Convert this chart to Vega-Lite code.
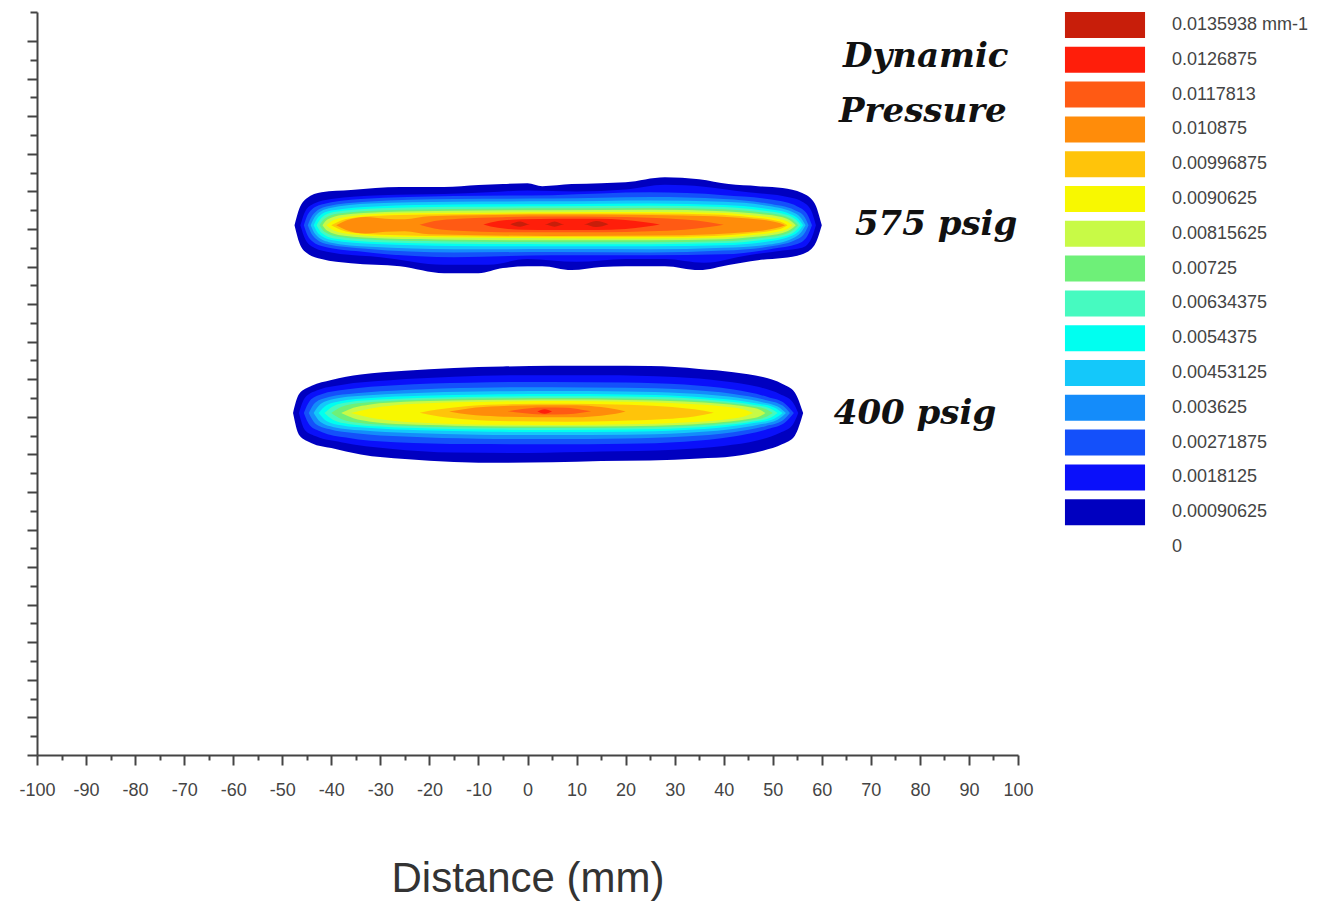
{
"$schema": "https://vega.github.io/schema/vega-lite/v6.json",
"width": 981, "height": 743,
"autosize": {"type": "none"},
"padding": {"left": 37, "top": 12, "right": 307, "bottom": 146},
"background": "white",
"config": {"view": {"stroke": null}},
"datasets": {
"blobs": [
{"b":"575","v":0.00090625,"x":-47.5,"top":28.2,"bot":28.2},
{"b":"575","v":0.00090625,"x":-46.5,"top":29.1,"bot":27.25},
{"b":"575","v":0.00090625,"x":-45,"top":29.64,"bot":26.72},
{"b":"575","v":0.00090625,"x":-42,"top":29.96,"bot":26.4},
{"b":"575","v":0.00090625,"x":-36,"top":30.07,"bot":26.18},
{"b":"575","v":0.00090625,"x":-26,"top":30.23,"bot":26.02},
{"b":"575","v":0.00090625,"x":-17,"top":30.23,"bot":25.65},
{"b":"575","v":0.00090625,"x":-10,"top":30.34,"bot":25.65},
{"b":"575","v":0.00090625,"x":-5,"top":30.39,"bot":25.92},
{"b":"575","v":0.00090625,"x":0,"top":30.44,"bot":26.02},
{"b":"575","v":0.00090625,"x":3,"top":30.28,"bot":26.02},
{"b":"575","v":0.00090625,"x":9,"top":30.39,"bot":25.81},
{"b":"575","v":0.00090625,"x":15,"top":30.44,"bot":25.97},
{"b":"575","v":0.00090625,"x":20,"top":30.49,"bot":26.02},
{"b":"575","v":0.00090625,"x":28,"top":30.76,"bot":26.02},
{"b":"575","v":0.00090625,"x":35,"top":30.65,"bot":25.81},
{"b":"575","v":0.00090625,"x":41,"top":30.39,"bot":26.08},
{"b":"575","v":0.00090625,"x":47,"top":30.28,"bot":26.34},
{"b":"575","v":0.00090625,"x":52,"top":30.18,"bot":26.45},
{"b":"575","v":0.00090625,"x":56,"top":29.91,"bot":26.66},
{"b":"575","v":0.00090625,"x":58.5,"top":29.38,"bot":27.14},
{"b":"575","v":0.00090625,"x":60,"top":28.2,"bot":28.2},
{"b":"575","v":0.0018125,"x":-46.3,"top":28.2,"bot":28.2},
{"b":"575","v":0.0018125,"x":-45.3,"top":28.95,"bot":27.45},
{"b":"575","v":0.0018125,"x":-43.5,"top":29.35,"bot":27.0},
{"b":"575","v":0.0018125,"x":-40,"top":29.6,"bot":26.75},
{"b":"575","v":0.0018125,"x":-30,"top":29.8,"bot":26.5},
{"b":"575","v":0.0018125,"x":-17,"top":29.86,"bot":26.1},
{"b":"575","v":0.0018125,"x":-8,"top":29.95,"bot":26.1},
{"b":"575","v":0.0018125,"x":0,"top":30.05,"bot":26.4},
{"b":"575","v":0.0018125,"x":10,"top":30.0,"bot":26.25},
{"b":"575","v":0.0018125,"x":20,"top":30.1,"bot":26.4},
{"b":"575","v":0.0018125,"x":28,"top":30.35,"bot":26.4},
{"b":"575","v":0.0018125,"x":36,"top":30.25,"bot":26.2},
{"b":"575","v":0.0018125,"x":45,"top":29.95,"bot":26.6},
{"b":"575","v":0.0018125,"x":52,"top":29.75,"bot":26.85},
{"b":"575","v":0.0018125,"x":56,"top":29.45,"bot":27.0},
{"b":"575","v":0.0018125,"x":57.8,"top":29.0,"bot":27.45},
{"b":"575","v":0.0018125,"x":58.8,"top":28.2,"bot":28.2},
{"b":"575","v":0.00271875,"x":-45.6,"top":28.2,"bot":28.2},
{"b":"575","v":0.00271875,"x":-44.6,"top":28.85,"bot":27.55},
{"b":"575","v":0.00271875,"x":-42,"top":29.3,"bot":27.1},
{"b":"575","v":0.00271875,"x":-34,"top":29.6,"bot":26.8},
{"b":"575","v":0.00271875,"x":-15,"top":29.75,"bot":26.5},
{"b":"575","v":0.00271875,"x":5,"top":29.8,"bot":26.6},
{"b":"575","v":0.00271875,"x":25,"top":29.95,"bot":26.6},
{"b":"575","v":0.00271875,"x":40,"top":29.8,"bot":26.65},
{"b":"575","v":0.00271875,"x":50,"top":29.55,"bot":26.95},
{"b":"575","v":0.00271875,"x":55,"top":29.2,"bot":27.2},
{"b":"575","v":0.00271875,"x":57,"top":28.8,"bot":27.6},
{"b":"575","v":0.00271875,"x":58,"top":28.2,"bot":28.2},
{"b":"575","v":0.003625,"x":-44.8,"top":28.2,"bot":28.2},
{"b":"575","v":0.003625,"x":-43.8,"top":28.75,"bot":27.65},
{"b":"575","v":0.003625,"x":-41,"top":29.2,"bot":27.2},
{"b":"575","v":0.003625,"x":-33,"top":29.45,"bot":26.95},
{"b":"575","v":0.003625,"x":-15,"top":29.6,"bot":26.75},
{"b":"575","v":0.003625,"x":5,"top":29.62,"bot":26.78},
{"b":"575","v":0.003625,"x":25,"top":29.7,"bot":26.75},
{"b":"575","v":0.003625,"x":40,"top":29.6,"bot":26.85},
{"b":"575","v":0.003625,"x":49,"top":29.35,"bot":27.05},
{"b":"575","v":0.003625,"x":54.5,"top":29.0,"bot":27.4},
{"b":"575","v":0.003625,"x":56.3,"top":28.7,"bot":27.7},
{"b":"575","v":0.003625,"x":57.3,"top":28.2,"bot":28.2},
{"b":"575","v":0.00453125,"x":-44.2,"top":28.2,"bot":28.2},
{"b":"575","v":0.00453125,"x":-43.2,"top":28.7,"bot":27.7},
{"b":"575","v":0.00453125,"x":-40.5,"top":29.1,"bot":27.3},
{"b":"575","v":0.00453125,"x":-32,"top":29.35,"bot":27.05},
{"b":"575","v":0.00453125,"x":-15,"top":29.45,"bot":26.92},
{"b":"575","v":0.00453125,"x":5,"top":29.47,"bot":26.93},
{"b":"575","v":0.00453125,"x":25,"top":29.52,"bot":26.92},
{"b":"575","v":0.00453125,"x":40,"top":29.45,"bot":27.0},
{"b":"575","v":0.00453125,"x":48.5,"top":29.25,"bot":27.15},
{"b":"575","v":0.00453125,"x":54,"top":28.9,"bot":27.5},
{"b":"575","v":0.00453125,"x":55.7,"top":28.6,"bot":27.8},
{"b":"575","v":0.00453125,"x":56.7,"top":28.2,"bot":28.2},
{"b":"575","v":0.0054375,"x":-43.6,"top":28.2,"bot":28.2},
{"b":"575","v":0.0054375,"x":-42.6,"top":28.65,"bot":27.75},
{"b":"575","v":0.0054375,"x":-40,"top":28.98,"bot":27.42},
{"b":"575","v":0.0054375,"x":-31,"top":29.2,"bot":27.2},
{"b":"575","v":0.0054375,"x":-15,"top":29.3,"bot":27.1},
{"b":"575","v":0.0054375,"x":5,"top":29.32,"bot":27.08},
{"b":"575","v":0.0054375,"x":25,"top":29.36,"bot":27.08},
{"b":"575","v":0.0054375,"x":40,"top":29.28,"bot":27.14},
{"b":"575","v":0.0054375,"x":48,"top":29.1,"bot":27.3},
{"b":"575","v":0.0054375,"x":53.5,"top":28.8,"bot":27.6},
{"b":"575","v":0.0054375,"x":55.2,"top":28.55,"bot":27.85},
{"b":"575","v":0.0054375,"x":56.2,"top":28.2,"bot":28.2},
{"b":"575","v":0.00634375,"x":-43,"top":28.2,"bot":28.2},
{"b":"575","v":0.00634375,"x":-42,"top":28.6,"bot":27.8},
{"b":"575","v":0.00634375,"x":-39.5,"top":28.9,"bot":27.5},
{"b":"575","v":0.00634375,"x":-30,"top":29.1,"bot":27.3},
{"b":"575","v":0.00634375,"x":-15,"top":29.18,"bot":27.22},
{"b":"575","v":0.00634375,"x":5,"top":29.21,"bot":27.19},
{"b":"575","v":0.00634375,"x":25,"top":29.24,"bot":27.19},
{"b":"575","v":0.00634375,"x":40,"top":29.17,"bot":27.25},
{"b":"575","v":0.00634375,"x":47.5,"top":29.0,"bot":27.4},
{"b":"575","v":0.00634375,"x":53,"top":28.75,"bot":27.65},
{"b":"575","v":0.00634375,"x":54.7,"top":28.5,"bot":27.9},
{"b":"575","v":0.00634375,"x":55.7,"top":28.2,"bot":28.2},
{"b":"575","v":0.00725,"x":-42.4,"top":28.2,"bot":28.2},
{"b":"575","v":0.00725,"x":-41.4,"top":28.55,"bot":27.85},
{"b":"575","v":0.00725,"x":-38.5,"top":28.82,"bot":27.58},
{"b":"575","v":0.00725,"x":-29,"top":29.0,"bot":27.4},
{"b":"575","v":0.00725,"x":-15,"top":29.07,"bot":27.33},
{"b":"575","v":0.00725,"x":5,"top":29.1,"bot":27.3},
{"b":"575","v":0.00725,"x":25,"top":29.12,"bot":27.3},
{"b":"575","v":0.00725,"x":40,"top":29.05,"bot":27.35},
{"b":"575","v":0.00725,"x":47,"top":28.9,"bot":27.5},
{"b":"575","v":0.00725,"x":52.5,"top":28.68,"bot":27.72},
{"b":"575","v":0.00725,"x":54.2,"top":28.45,"bot":27.95},
{"b":"575","v":0.00725,"x":55.2,"top":28.2,"bot":28.2},
{"b":"575","v":0.00815625,"x":-41.8,"top":28.2,"bot":28.2},
{"b":"575","v":0.00815625,"x":-40.8,"top":28.5,"bot":27.9},
{"b":"575","v":0.00815625,"x":-37.8,"top":28.75,"bot":27.65},
{"b":"575","v":0.00815625,"x":-29,"top":28.9,"bot":27.5},
{"b":"575","v":0.00815625,"x":-15,"top":28.97,"bot":27.43},
{"b":"575","v":0.00815625,"x":5,"top":29.0,"bot":27.4},
{"b":"575","v":0.00815625,"x":25,"top":29.02,"bot":27.4},
{"b":"575","v":0.00815625,"x":40,"top":28.95,"bot":27.45},
{"b":"575","v":0.00815625,"x":46.5,"top":28.82,"bot":27.58},
{"b":"575","v":0.00815625,"x":52,"top":28.62,"bot":27.78},
{"b":"575","v":0.00815625,"x":53.7,"top":28.42,"bot":27.98},
{"b":"575","v":0.00815625,"x":54.7,"top":28.2,"bot":28.2},
{"b":"575","v":0.0090625,"x":-41,"top":28.2,"bot":28.2},
{"b":"575","v":0.0090625,"x":-39.5,"top":28.48,"bot":27.92},
{"b":"575","v":0.0090625,"x":-36,"top":28.68,"bot":27.72},
{"b":"575","v":0.0090625,"x":-28,"top":28.82,"bot":27.58},
{"b":"575","v":0.0090625,"x":-15,"top":28.86,"bot":27.54},
{"b":"575","v":0.0090625,"x":5,"top":28.89,"bot":27.51},
{"b":"575","v":0.0090625,"x":25,"top":28.9,"bot":27.5},
{"b":"575","v":0.0090625,"x":40,"top":28.85,"bot":27.55},
{"b":"575","v":0.0090625,"x":46,"top":28.72,"bot":27.68},
{"b":"575","v":0.0090625,"x":51,"top":28.55,"bot":27.85},
{"b":"575","v":0.0090625,"x":53,"top":28.4,"bot":28.0},
{"b":"575","v":0.0090625,"x":54,"top":28.2,"bot":28.2},
{"b":"575","v":0.00996875,"x":-40,"top":28.2,"bot":28.2},
{"b":"575","v":0.00996875,"x":-38,"top":28.45,"bot":27.95},
{"b":"575","v":0.00996875,"x":-34,"top":28.64,"bot":27.76},
{"b":"575","v":0.00996875,"x":-26,"top":28.74,"bot":27.66},
{"b":"575","v":0.00996875,"x":-15,"top":28.79,"bot":27.61},
{"b":"575","v":0.00996875,"x":5,"top":28.82,"bot":27.58},
{"b":"575","v":0.00996875,"x":25,"top":28.82,"bot":27.58},
{"b":"575","v":0.00996875,"x":38,"top":28.77,"bot":27.63},
{"b":"575","v":0.00996875,"x":45,"top":28.64,"bot":27.76},
{"b":"575","v":0.00996875,"x":50,"top":28.48,"bot":27.92},
{"b":"575","v":0.00996875,"x":52,"top":28.35,"bot":28.05},
{"b":"575","v":0.00996875,"x":53,"top":28.2,"bot":28.2},
{"b":"575","v":0.010875,"x":-39,"top":28.2,"bot":28.2},
{"b":"575","v":0.010875,"x":-37,"top":28.45,"bot":27.95},
{"b":"575","v":0.010875,"x":-33,"top":28.64,"bot":27.76},
{"b":"575","v":0.010875,"x":-29,"top":28.55,"bot":27.85},
{"b":"575","v":0.010875,"x":-25,"top":28.52,"bot":27.88},
{"b":"575","v":0.010875,"x":-20,"top":28.68,"bot":27.72},
{"b":"575","v":0.010875,"x":-10,"top":28.73,"bot":27.67},
{"b":"575","v":0.010875,"x":5,"top":28.77,"bot":27.63},
{"b":"575","v":0.010875,"x":25,"top":28.75,"bot":27.65},
{"b":"575","v":0.010875,"x":38,"top":28.68,"bot":27.72},
{"b":"575","v":0.010875,"x":45,"top":28.56,"bot":27.84},
{"b":"575","v":0.010875,"x":49.5,"top":28.42,"bot":27.98},
{"b":"575","v":0.010875,"x":51.5,"top":28.3,"bot":28.1},
{"b":"575","v":0.010875,"x":52.5,"top":28.2,"bot":28.2},
{"b":"575","v":0.0117813,"x":-22,"top":28.22,"bot":28.22},
{"b":"575","v":0.0117813,"x":-19,"top":28.42,"bot":28.02},
{"b":"575","v":0.0117813,"x":-14,"top":28.55,"bot":27.9},
{"b":"575","v":0.0117813,"x":-5,"top":28.63,"bot":27.83},
{"b":"575","v":0.0117813,"x":5,"top":28.66,"bot":27.82},
{"b":"575","v":0.0117813,"x":15,"top":28.65,"bot":27.83},
{"b":"575","v":0.0117813,"x":25,"top":28.6,"bot":27.88},
{"b":"575","v":0.0117813,"x":32,"top":28.5,"bot":27.96},
{"b":"575","v":0.0117813,"x":37,"top":28.36,"bot":28.1},
{"b":"575","v":0.0117813,"x":40,"top":28.22,"bot":28.22},
{"b":"575","v":0.0126875,"x":-9,"top":28.24,"bot":28.24},
{"b":"575","v":0.0126875,"x":-6,"top":28.42,"bot":28.06},
{"b":"575","v":0.0126875,"x":-1,"top":28.52,"bot":27.96},
{"b":"575","v":0.0126875,"x":6,"top":28.55,"bot":27.94},
{"b":"575","v":0.0126875,"x":14,"top":28.55,"bot":27.95},
{"b":"575","v":0.0126875,"x":20,"top":28.48,"bot":28.0},
{"b":"575","v":0.0126875,"x":24,"top":28.36,"bot":28.12},
{"b":"575","v":0.0126875,"x":27,"top":28.24,"bot":28.24},
{"b":"575","v":0.0135938,"x":-3.5,"top":28.25,"bot":28.25},
{"b":"575","v":0.0135938,"x":-1.5,"top":28.4,"bot":28.12},
{"b":"575","v":0.0135938,"x":0.5,"top":28.25,"bot":28.25},
{"b":"575","v":0.0135938,"x":3.5,"top":28.25,"bot":28.25},
{"b":"575","v":0.0135938,"x":5.5,"top":28.4,"bot":28.12},
{"b":"575","v":0.0135938,"x":7.5,"top":28.25,"bot":28.25},
{"b":"575","v":0.0135938,"x":11.5,"top":28.25,"bot":28.25},
{"b":"575","v":0.0135938,"x":14,"top":28.42,"bot":28.1},
{"b":"575","v":0.0135938,"x":16.5,"top":28.25,"bot":28.25},
{"b":"400","v":0.00090625,"x":-47.8,"top":18.2,"bot":18.2},
{"b":"400","v":0.00090625,"x":-46.6,"top":19.2,"bot":17.05},
{"b":"400","v":0.00090625,"x":-44,"top":19.65,"bot":16.6},
{"b":"400","v":0.00090625,"x":-40,"top":19.96,"bot":16.34},
{"b":"400","v":0.00090625,"x":-34,"top":20.25,"bot":16.0},
{"b":"400","v":0.00090625,"x":-25,"top":20.45,"bot":15.75},
{"b":"400","v":0.00090625,"x":-15,"top":20.6,"bot":15.6},
{"b":"400","v":0.00090625,"x":-5,"top":20.68,"bot":15.55},
{"b":"400","v":0.00090625,"x":5,"top":20.72,"bot":15.58},
{"b":"400","v":0.00090625,"x":15,"top":20.72,"bot":15.65},
{"b":"400","v":0.00090625,"x":25,"top":20.7,"bot":15.68},
{"b":"400","v":0.00090625,"x":35,"top":20.55,"bot":15.78},
{"b":"400","v":0.00090625,"x":42,"top":20.38,"bot":15.9},
{"b":"400","v":0.00090625,"x":48,"top":20.12,"bot":16.2},
{"b":"400","v":0.00090625,"x":52,"top":19.75,"bot":16.55},
{"b":"400","v":0.00090625,"x":54.5,"top":19.3,"bot":17.0},
{"b":"400","v":0.00090625,"x":56.2,"top":18.2,"bot":18.2},
{"b":"400","v":0.0018125,"x":-46.6,"top":18.2,"bot":18.2},
{"b":"400","v":0.0018125,"x":-45.4,"top":19.0,"bot":17.3},
{"b":"400","v":0.0018125,"x":-43,"top":19.4,"bot":16.95},
{"b":"400","v":0.0018125,"x":-38,"top":19.7,"bot":16.65},
{"b":"400","v":0.0018125,"x":-28,"top":19.95,"bot":16.3},
{"b":"400","v":0.0018125,"x":-15,"top":20.13,"bot":16.1},
{"b":"400","v":0.0018125,"x":0,"top":20.22,"bot":16.08},
{"b":"400","v":0.0018125,"x":15,"top":20.22,"bot":16.15},
{"b":"400","v":0.0018125,"x":30,"top":20.12,"bot":16.25},
{"b":"400","v":0.0018125,"x":40,"top":19.9,"bot":16.45},
{"b":"400","v":0.0018125,"x":47,"top":19.6,"bot":16.75},
{"b":"400","v":0.0018125,"x":51.5,"top":19.2,"bot":17.15},
{"b":"400","v":0.0018125,"x":54,"top":18.8,"bot":17.55},
{"b":"400","v":0.0018125,"x":55.2,"top":18.2,"bot":18.2},
{"b":"400","v":0.00271875,"x":-45.6,"top":18.2,"bot":18.2},
{"b":"400","v":0.00271875,"x":-44.4,"top":18.85,"bot":17.55},
{"b":"400","v":0.00271875,"x":-42,"top":19.2,"bot":17.2},
{"b":"400","v":0.00271875,"x":-37,"top":19.45,"bot":16.9},
{"b":"400","v":0.00271875,"x":-27,"top":19.68,"bot":16.65},
{"b":"400","v":0.00271875,"x":-12,"top":19.82,"bot":16.55},
{"b":"400","v":0.00271875,"x":5,"top":19.86,"bot":16.54},
{"b":"400","v":0.00271875,"x":20,"top":19.83,"bot":16.57},
{"b":"400","v":0.00271875,"x":32,"top":19.72,"bot":16.68},
{"b":"400","v":0.00271875,"x":42,"top":19.45,"bot":16.95},
{"b":"400","v":0.00271875,"x":49,"top":19.05,"bot":17.35},
{"b":"400","v":0.00271875,"x":52.5,"top":18.7,"bot":17.7},
{"b":"400","v":0.00271875,"x":54.3,"top":18.2,"bot":18.2},
{"b":"400","v":0.003625,"x":-44.6,"top":18.2,"bot":18.2},
{"b":"400","v":0.003625,"x":-43.3,"top":18.75,"bot":17.65},
{"b":"400","v":0.003625,"x":-40.5,"top":19.05,"bot":17.35},
{"b":"400","v":0.003625,"x":-35,"top":19.25,"bot":17.13},
{"b":"400","v":0.003625,"x":-25,"top":19.43,"bot":16.95},
{"b":"400","v":0.003625,"x":-10,"top":19.55,"bot":16.84},
{"b":"400","v":0.003625,"x":5,"top":19.58,"bot":16.82},
{"b":"400","v":0.003625,"x":20,"top":19.55,"bot":16.85},
{"b":"400","v":0.003625,"x":32,"top":19.45,"bot":16.95},
{"b":"400","v":0.003625,"x":42,"top":19.22,"bot":17.18},
{"b":"400","v":0.003625,"x":48.5,"top":18.9,"bot":17.5},
{"b":"400","v":0.003625,"x":52,"top":18.6,"bot":17.8},
{"b":"400","v":0.003625,"x":53.5,"top":18.2,"bot":18.2},
{"b":"400","v":0.00453125,"x":-43.6,"top":18.2,"bot":18.2},
{"b":"400","v":0.00453125,"x":-42.2,"top":18.68,"bot":17.72},
{"b":"400","v":0.00453125,"x":-39.5,"top":18.95,"bot":17.45},
{"b":"400","v":0.00453125,"x":-34,"top":19.12,"bot":17.28},
{"b":"400","v":0.00453125,"x":-24,"top":19.26,"bot":17.14},
{"b":"400","v":0.00453125,"x":-10,"top":19.35,"bot":17.05},
{"b":"400","v":0.00453125,"x":5,"top":19.37,"bot":17.03},
{"b":"400","v":0.00453125,"x":20,"top":19.35,"bot":17.05},
{"b":"400","v":0.00453125,"x":32,"top":19.26,"bot":17.14},
{"b":"400","v":0.00453125,"x":41,"top":19.08,"bot":17.32},
{"b":"400","v":0.00453125,"x":47.5,"top":18.8,"bot":17.6},
{"b":"400","v":0.00453125,"x":51,"top":18.55,"bot":17.85},
{"b":"400","v":0.00453125,"x":52.7,"top":18.2,"bot":18.2},
{"b":"400","v":0.0054375,"x":-42.6,"top":18.2,"bot":18.2},
{"b":"400","v":0.0054375,"x":-41,"top":18.62,"bot":17.78},
{"b":"400","v":0.0054375,"x":-38,"top":18.85,"bot":17.55},
{"b":"400","v":0.0054375,"x":-32,"top":19.0,"bot":17.4},
{"b":"400","v":0.0054375,"x":-22,"top":19.12,"bot":17.28},
{"b":"400","v":0.0054375,"x":-8,"top":19.19,"bot":17.21},
{"b":"400","v":0.0054375,"x":5,"top":19.21,"bot":17.19},
{"b":"400","v":0.0054375,"x":20,"top":19.19,"bot":17.21},
{"b":"400","v":0.0054375,"x":32,"top":19.1,"bot":17.3},
{"b":"400","v":0.0054375,"x":40,"top":18.95,"bot":17.45},
{"b":"400","v":0.0054375,"x":46.5,"top":18.72,"bot":17.68},
{"b":"400","v":0.0054375,"x":50.3,"top":18.5,"bot":17.9},
{"b":"400","v":0.0054375,"x":52,"top":18.2,"bot":18.2},
{"b":"400","v":0.00634375,"x":-41.4,"top":18.2,"bot":18.2},
{"b":"400","v":0.00634375,"x":-39.6,"top":18.57,"bot":17.83},
{"b":"400","v":0.00634375,"x":-36.5,"top":18.78,"bot":17.62},
{"b":"400","v":0.00634375,"x":-30,"top":18.92,"bot":17.48},
{"b":"400","v":0.00634375,"x":-20,"top":19.02,"bot":17.38},
{"b":"400","v":0.00634375,"x":-6,"top":19.08,"bot":17.32},
{"b":"400","v":0.00634375,"x":5,"top":19.1,"bot":17.3},
{"b":"400","v":0.00634375,"x":20,"top":19.08,"bot":17.32},
{"b":"400","v":0.00634375,"x":32,"top":19.0,"bot":17.4},
{"b":"400","v":0.00634375,"x":40,"top":18.85,"bot":17.55},
{"b":"400","v":0.00634375,"x":46,"top":18.65,"bot":17.75},
{"b":"400","v":0.00634375,"x":49.5,"top":18.45,"bot":17.95},
{"b":"400","v":0.00634375,"x":51,"top":18.2,"bot":18.2},
{"b":"400","v":0.00725,"x":-40,"top":18.2,"bot":18.2},
{"b":"400","v":0.00725,"x":-38,"top":18.52,"bot":17.88},
{"b":"400","v":0.00725,"x":-34.5,"top":18.72,"bot":17.68},
{"b":"400","v":0.00725,"x":-28,"top":18.85,"bot":17.55},
{"b":"400","v":0.00725,"x":-18,"top":18.94,"bot":17.46},
{"b":"400","v":0.00725,"x":-5,"top":18.99,"bot":17.41},
{"b":"400","v":0.00725,"x":5,"top":19.0,"bot":17.4},
{"b":"400","v":0.00725,"x":20,"top":18.98,"bot":17.42},
{"b":"400","v":0.00725,"x":32,"top":18.9,"bot":17.5},
{"b":"400","v":0.00725,"x":40,"top":18.76,"bot":17.64},
{"b":"400","v":0.00725,"x":45.5,"top":18.58,"bot":17.82},
{"b":"400","v":0.00725,"x":48.7,"top":18.4,"bot":18.0},
{"b":"400","v":0.00725,"x":50,"top":18.2,"bot":18.2},
{"b":"400","v":0.00815625,"x":-38,"top":18.2,"bot":18.2},
{"b":"400","v":0.00815625,"x":-35.5,"top":18.48,"bot":17.92},
{"b":"400","v":0.00815625,"x":-32,"top":18.66,"bot":17.74},
{"b":"400","v":0.00815625,"x":-25,"top":18.8,"bot":17.6},
{"b":"400","v":0.00815625,"x":-15,"top":18.87,"bot":17.53},
{"b":"400","v":0.00815625,"x":-3,"top":18.91,"bot":17.49},
{"b":"400","v":0.00815625,"x":8,"top":18.92,"bot":17.48},
{"b":"400","v":0.00815625,"x":20,"top":18.9,"bot":17.5},
{"b":"400","v":0.00815625,"x":32,"top":18.82,"bot":17.58},
{"b":"400","v":0.00815625,"x":40,"top":18.68,"bot":17.72},
{"b":"400","v":0.00815625,"x":45,"top":18.52,"bot":17.88},
{"b":"400","v":0.00815625,"x":47.5,"top":18.36,"bot":18.04},
{"b":"400","v":0.00815625,"x":48.5,"top":18.2,"bot":18.2},
{"b":"400","v":0.0090625,"x":-36,"top":18.2,"bot":18.2},
{"b":"400","v":0.0090625,"x":-32,"top":18.45,"bot":17.95},
{"b":"400","v":0.0090625,"x":-27,"top":18.62,"bot":17.78},
{"b":"400","v":0.0090625,"x":-18,"top":18.75,"bot":17.65},
{"b":"400","v":0.0090625,"x":-5,"top":18.82,"bot":17.58},
{"b":"400","v":0.0090625,"x":8,"top":18.84,"bot":17.56},
{"b":"400","v":0.0090625,"x":20,"top":18.8,"bot":17.6},
{"b":"400","v":0.0090625,"x":32,"top":18.7,"bot":17.7},
{"b":"400","v":0.0090625,"x":40,"top":18.55,"bot":17.85},
{"b":"400","v":0.0090625,"x":44,"top":18.4,"bot":18.0},
{"b":"400","v":0.0090625,"x":46,"top":18.2,"bot":18.2},
{"b":"400","v":0.00996875,"x":-22,"top":18.22,"bot":18.22},
{"b":"400","v":0.00996875,"x":-18,"top":18.4,"bot":18.02},
{"b":"400","v":0.00996875,"x":-12,"top":18.58,"bot":17.86},
{"b":"400","v":0.00996875,"x":-2,"top":18.68,"bot":17.76},
{"b":"400","v":0.00996875,"x":8,"top":18.7,"bot":17.74},
{"b":"400","v":0.00996875,"x":18,"top":18.66,"bot":17.78},
{"b":"400","v":0.00996875,"x":28,"top":18.55,"bot":17.88},
{"b":"400","v":0.00996875,"x":34,"top":18.4,"bot":18.02},
{"b":"400","v":0.00996875,"x":38,"top":18.22,"bot":18.22},
{"b":"400","v":0.010875,"x":-16,"top":18.28,"bot":18.28},
{"b":"400","v":0.010875,"x":-12,"top":18.45,"bot":18.12},
{"b":"400","v":0.010875,"x":-6,"top":18.56,"bot":18.02},
{"b":"400","v":0.010875,"x":2,"top":18.62,"bot":17.98},
{"b":"400","v":0.010875,"x":10,"top":18.62,"bot":17.98},
{"b":"400","v":0.010875,"x":15,"top":18.52,"bot":18.06},
{"b":"400","v":0.010875,"x":18,"top":18.4,"bot":18.16},
{"b":"400","v":0.010875,"x":20,"top":18.28,"bot":18.28},
{"b":"400","v":0.0117813,"x":-4,"top":18.3,"bot":18.3},
{"b":"400","v":0.0117813,"x":-1,"top":18.42,"bot":18.2},
{"b":"400","v":0.0117813,"x":3,"top":18.5,"bot":18.12},
{"b":"400","v":0.0117813,"x":8,"top":18.48,"bot":18.14},
{"b":"400","v":0.0117813,"x":11,"top":18.38,"bot":18.22},
{"b":"400","v":0.0117813,"x":13,"top":18.3,"bot":18.3},
{"b":"400","v":0.0126875,"x":2,"top":18.28,"bot":18.28},
{"b":"400","v":0.0126875,"x":3.5,"top":18.4,"bot":18.16},
{"b":"400","v":0.0126875,"x":5,"top":18.28,"bot":18.28}
],
"notes": [
{"text":"Dynamic","x":81.2,"y":36.6},
{"text":"Pressure","x":80.6,"y":33.7},
{"text":"575 psig","x":83.3,"y":27.7},
{"text":"400 psig","x":79.0,"y":17.6}
]
},
"layer": [
{
"data": {"name": "blobs"},
"mark": {"type": "area", "interpolate": "monotone", "strokeWidth": 0},
"encoding": {
"x": {"field": "x", "type": "quantitative",
 "scale": {"domain": [-100, 100], "nice": false, "zero": false},
 "axis": {"title": "Distance (mm)", "tickCount": 1000,
  "values": [-100,-95,-90,-85,-80,-75,-70,-65,-60,-55,-50,-45,-40,-35,-30,-25,-20,-15,-10,-5,0,5,10,15,20,25,30,35,40,45,50,55,60,65,70,75,80,85,90,95,100],
  "labelExpr": "datum.value % 10 === 0 ? '' + datum.value : ''",
  "tickSize": {"condition": {"test": "datum.value % 10 === 0", "value": 10}, "value": 5},
  "grid": false, "domainColor": "#444444", "domainWidth": 2, "tickColor": "#444444", "tickWidth": 2,
  "labelFont": "Liberation Sans", "labelFontSize": 18, "labelColor": "#444444", "labelPadding": 16,
  "labelFlush": false, "labelOverlap": false,
  "titleFont": "Liberation Sans", "titleFontSize": 42, "titleFontWeight": "normal", "titleColor": "#333333", "titlePadding": 59}},
"y": {"field": "top", "type": "quantitative", "stack": null,
 "scale": {"domain": [0, 39.55], "nice": false, "zero": false},
 "axis": {"title": null, "labels": false, "tickCount": 1000,
  "values": [0,1,2,3,4,5,6,7,8,9,10,11,12,13,14,15,16,17,18,19,20,21,22,23,24,25,26,27,28,29,30,31,32,33,34,35,36,37,38,39.55],
  "tickSize": {"condition": {"test": "datum.value % 2 === 0", "value": 10}, "value": 7},
  "grid": false, "domainColor": "#444444", "domainWidth": 2, "tickColor": "#444444", "tickWidth": 2}},
"y2": {"field": "bot"},
"detail": {"field": "b"},
"color": {"field": "v", "type": "nominal",
 "scale": {"domain": [0.0135938,0.0126875,0.0117813,0.010875,0.00996875,0.0090625,0.00815625,0.00725,0.00634375,0.0054375,0.00453125,0.003625,0.00271875,0.0018125,0.00090625,0],
  "range": ["#c81e0a","#ff1e0a","#ff5a14","#ff8c0a","#ffc40a","#f8f800","#c8fa46","#6ef078","#46fac0","#00fff0","#14c8fa","#148cfa","#1450fa","#0a10fa","#0000c0","#ffffff"]},
 "legend": {"title": null, "orient": "right", "offset": 74,
  "symbolType": "M-3.08,-1H3.08V1H-3.08Z", "symbolSize": 676, "symbolStrokeWidth": 0, "symbolOpacity": 1,
  "labelFont": "Liberation Sans", "labelFontSize": 18, "labelColor": "#444444", "labelOffset": 54,
  "rowPadding": 8.8, "padding": 0, "labelLimit": 300,
  "labelExpr": "datum.value === 0.0135938 ? '0.0135938 mm-1' : '' + datum.value"}}
}
},
{
"data": {"name": "notes"},
"mark": {"type": "text", "font": "DejaVu Serif", "fontWeight": "bold", "fontStyle": "italic", "fontSize": 34, "align": "center", "baseline": "alphabetic", "color": "#111111"},
"encoding": {
"x": {"field": "x", "type": "quantitative"},
"y": {"field": "y", "type": "quantitative"},
"text": {"field": "text"}
}
}
]
}
